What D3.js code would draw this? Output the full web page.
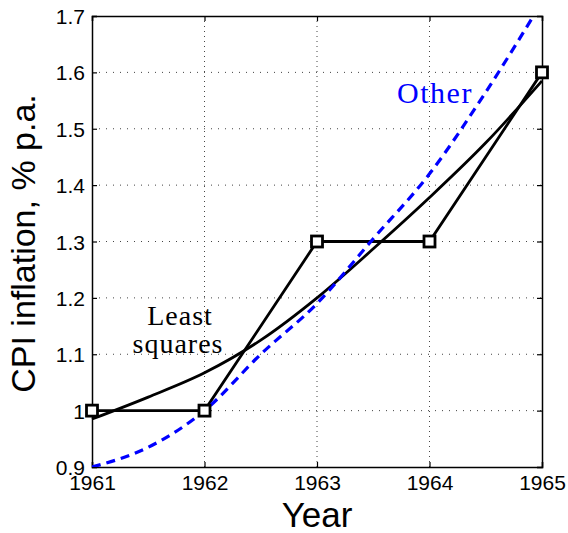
<!DOCTYPE html>
<html lang="en">
<head>
    <meta charset="UTF-8" />
    <title>CPI inflation</title>
    <script src="https://d3js.org/d3.v7.min.js"></script>
    <style>
        body { margin: 0; background: #fff; }
    </style>
</head>
<body>
    <script>
        var w = 568;
        var h = 533;

        // Data
        var years = [1961, 1962, 1963, 1964, 1965];
        var cpi = [1.0, 1.0, 1.3, 1.3, 1.6];

        // fitted curves, read at half-year steps
        var fitYears = [1961, 1961.5, 1962, 1962.5, 1963, 1963.5, 1964, 1964.5, 1965];
        var leastSquares = [0.985, 1.024, 1.067, 1.125, 1.2, 1.287, 1.378, 1.475, 1.585];
        var other = [0.9, 0.935, 1.0, 1.1, 1.19, 1.305, 1.42, 1.565, 1.725];

        var xTicks = [1961, 1962, 1963, 1964, 1965];
        var yTicks = [0.9, 1, 1.1, 1.2, 1.3, 1.4, 1.5, 1.6, 1.7];

        // plot box ("top" is taken by window.top, so use other names)
        var pLeft = 92, pRight = 542, pTop = 16, pBottom = 467;

        var svg = d3.select("body")
            .append("svg")
            .attr("width", w)
            .attr("height", h);

        // Scales
        var xScale = d3.scaleLinear()
            .domain([1961, 1965])
            .range([pLeft, pRight]);

        var yScale = d3.scaleLinear()
            .domain([0.9, 1.7])
            .range([pBottom, pTop]);

        svg.append("clipPath")
            .attr("id", "plotClip")
            .append("rect")
            .attr("x", pLeft)
            .attr("y", pTop)
            .attr("width", pRight - pLeft)
            .attr("height", pBottom - pTop);

        // Grid lines (dotted)
        svg.append("g")
            .selectAll("line")
            .data(yTicks.slice(1, -1))
            .enter()
            .append("line")
            .attr("x1", pLeft)
            .attr("x2", pRight)
            .attr("y1", function(d) { return yScale(d); })
            .attr("y2", function(d) { return yScale(d); })
            .attr("stroke", "#444")
            .attr("stroke-width", 1)
            .attr("stroke-dasharray", "1,6");

        svg.append("g")
            .selectAll("line")
            .data(xTicks.slice(1, -1))
            .enter()
            .append("line")
            .attr("x1", function(d) { return xScale(d); })
            .attr("x2", function(d) { return xScale(d); })
            .attr("y1", pTop)
            .attr("y2", pBottom)
            .attr("stroke", "#444")
            .attr("stroke-width", 1)
            .attr("stroke-dasharray", "1,4");

        // Axes (ticks inward, box all round)
        var fmtY = function(d) { return d === 1 ? "1" : d3.format(".1f")(d); };

        var xAxis = svg.append("g")
            .attr("transform", "translate(0," + pBottom + ")")
            .call(d3.axisBottom(xScale).tickValues(xTicks).tickSize(-5).tickPadding(11).tickFormat(d3.format("d")));

        var yAxis = svg.append("g")
            .attr("transform", "translate(" + pLeft + ",0)")
            .call(d3.axisLeft(yScale).tickValues(yTicks).tickSize(-5).tickPadding(7).tickFormat(fmtY));

        svg.append("g")
            .attr("transform", "translate(0," + pTop + ")")
            .call(d3.axisTop(xScale).tickValues(xTicks).tickSize(-5).tickFormat(""));

        svg.append("g")
            .attr("transform", "translate(" + pRight + ",0)")
            .call(d3.axisRight(yScale).tickValues(yTicks).tickSize(-5).tickFormat(""));

        svg.selectAll(".domain").attr("stroke", "#000").attr("stroke-width", 1.5);
        svg.selectAll(".tick line").attr("stroke", "#000").attr("stroke-width", 1.2);
        svg.selectAll(".tick text")
            .attr("fill", "#000")
            .style("font-family", "'Liberation Sans', Arial, sans-serif")
            .style("font-size", "21px");
        xAxis.selectAll(".tick text").attr("dy", "0.55em");
        yAxis.selectAll(".tick text").attr("dy", "0.36em");

        // Lines
        var lineFit = d3.line()
            .x(function(d) { return xScale(d[0]); })
            .y(function(d) { return yScale(d[1]); })
            .curve(d3.curveMonotoneX);

        svg.append("path")
            .datum(d3.zip(fitYears, leastSquares))
            .attr("d", lineFit)
            .attr("fill", "none")
            .attr("stroke", "#000")
            .attr("stroke-width", 2.8);

        svg.append("path")
            .datum(d3.zip(years, cpi))
            .attr("d", d3.line()
                .x(function(d) { return xScale(d[0]); })
                .y(function(d) { return yScale(d[1]); }))
            .attr("fill", "none")
            .attr("stroke", "#000")
            .attr("stroke-width", 2.8);

        svg.append("path")
            .datum(d3.zip(fitYears, other))
            .attr("d", lineFit)
            .attr("clip-path", "url(#plotClip)")
            .attr("fill", "none")
            .attr("stroke", "#0000ff")
            .attr("stroke-width", 3.2)
            .attr("stroke-dasharray", "9,6");

        // Square markers
        svg.append("g")
            .selectAll("rect")
            .data(d3.zip(years, cpi))
            .enter()
            .append("rect")
            .attr("x", function(d) { return xScale(d[0]) - 5.5; })
            .attr("y", function(d) { return yScale(d[1]) - 5.5; })
            .attr("width", 11)
            .attr("height", 11)
            .attr("fill", "#fff")
            .attr("stroke", "#000")
            .attr("stroke-width", 2.8);

        // Annotations
        svg.append("text")
            .attr("x", 435)
            .attr("y", 103)
            .attr("text-anchor", "middle")
            .attr("fill", "#0000ff")
            .style("font-family", "'Liberation Serif', 'Times New Roman', serif")
            .style("font-size", "30px")
            .style("letter-spacing", "1.5px")
            .text("Other");

        var ann = svg.append("text")
            .attr("text-anchor", "middle")
            .attr("fill", "#000")
            .style("font-family", "'Liberation Serif', 'Times New Roman', serif")
            .style("font-size", "28px")
            .style("letter-spacing", "1px");
        ann.append("tspan").attr("x", 180).attr("y", 325).text("Least");
        ann.append("tspan").attr("x", 178).attr("y", 353).text("squares");

        // Axis labels
        svg.append("text")
            .attr("x", (pLeft + pRight) / 2)
            .attr("y", 527)
            .attr("text-anchor", "middle")
            .style("font-family", "'Liberation Sans', Arial, sans-serif")
            .style("font-size", "35px")
            .text("Year");

        svg.append("text")
            .attr("transform", "translate(35," + ((pTop + pBottom) / 2 + 2) + ") rotate(-90)")
            .attr("text-anchor", "middle")
            .style("font-family", "'Liberation Sans', Arial, sans-serif")
            .style("font-size", "34px")
            .text("CPI inflation, % p.a.");
    </script>
</body>
</html>
